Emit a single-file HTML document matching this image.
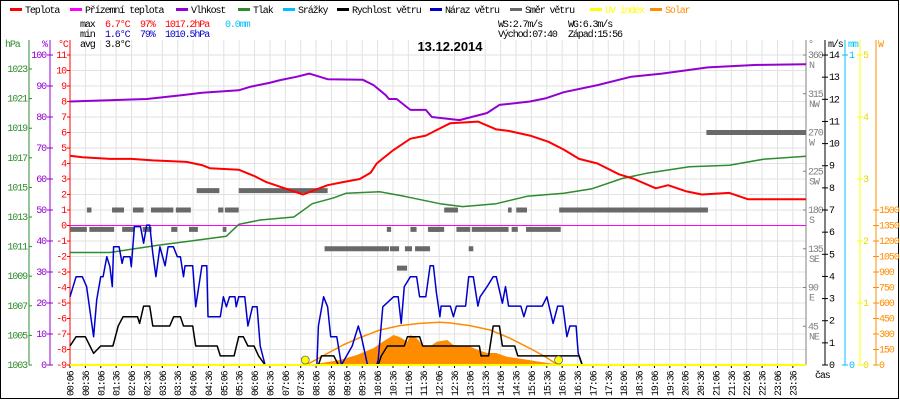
<!DOCTYPE html>
<html><head><meta charset="utf-8">
<style>
html,body{margin:0;padding:0;background:#fff;}
svg{display:block;}
text{font-family:"Liberation Mono","DejaVu Sans Mono",monospace;font-size:10px;letter-spacing:-1.1px;}
</style></head>
<body>
<svg id="chart" width="900" height="400" viewBox="0 0 900 400" xmlns="http://www.w3.org/2000/svg">
<rect x="0.5" y="0.5" width="898" height="398" fill="#fff" stroke="#000"/>
<g id="grid"></g>
<g id="legend"></g>
<g id="stats">
<text x="80" y="27" fill="#000">max</text>
<text x="105" y="27" fill="#f00">6.7°C</text>
<text x="140" y="27" fill="#f00">97%</text>
<text x="165" y="27" fill="#f00">1017.2hPa</text>
<text x="225" y="27" fill="#00bfff">0.0mm</text>
<text x="80" y="37" fill="#000">min</text>
<text x="105" y="37" fill="#00c">1.6°C</text>
<text x="140" y="37" fill="#00c">79%</text>
<text x="165" y="37" fill="#00c">1010.5hPa</text>
<text x="80" y="47" fill="#000">avg</text>
<text x="105" y="47" fill="#000">3.8°C</text>
<text x="498" y="27" fill="#000">WS:2.7m/s</text>
<text x="568" y="27" fill="#000">WG:6.3m/s</text>
<text x="498" y="37" fill="#000">Východ:07:40</text>
<text x="568" y="37" fill="#000">Západ:15:56</text>
</g>
<text x="450" y="51" text-anchor="middle" style="font-family:'Liberation Sans',sans-serif;font-size:13px;font-weight:bold;letter-spacing:0">13.12.2014</text>
<g id="axes"></g>
<g id="series"></g>
</svg>
<script>
// ---- data ----
const tempT = [0,0.4,1.3,2.0,2.7,3.8,4.3,4.56,5.5,6.0,6.4,7.0,7.6,8.0,8.4,8.9,9.45,9.8,10.0,10.5,11.1,11.6,11.9,12.4,13.3,13.9,14.3,15.0,15.6,16.1,16.6,17.2,17.9,18.4,19.1,19.5,20.1,20.6,21.5,21.8,22.1,24];
const tempV = [4.5,4.4,4.3,4.3,4.2,4.1,3.9,3.7,3.6,3.2,2.8,2.4,2.0,2.3,2.6,2.8,3.0,3.4,4.0,4.8,5.6,5.8,6.1,6.6,6.7,6.2,6.1,5.8,5.4,4.9,4.3,4.0,3.3,3.0,2.4,2.6,2.2,2.0,2.1,1.9,1.7,1.7];
const humT = [0,2.5,3.7,4.3,5.5,5.9,6.5,6.85,7.4,7.8,8.4,9.55,9.9,10.3,10.4,10.65,11.1,11.6,11.8,12.7,13.6,14.0,15.0,15.5,16.1,17.2,18.3,19.3,20.8,22.4,24];
const humV = [85,85.8,87.1,87.8,88.6,89.8,91,91.9,93,94,92.2,92,90.3,87,85.8,85.8,82.3,82.3,80,79,81.3,83.9,85,86,88,90.3,93,94,96,96.8,97];
const presT = [0,1.3,2.9,4.0,5.1,5.5,6.2,7.3,7.9,8.6,9.0,10.1,10.9,12.06,12.8,13.9,14.9,16.1,17.0,18.0,18.8,20.2,21.5,22.6,24];
const presV = [1010.6,1010.6,1011.1,1011.4,1011.7,1012.5,1012.8,1013.0,1013.9,1014.3,1014.6,1014.7,1014.4,1013.9,1013.7,1013.9,1014.4,1014.6,1014.9,1015.6,1015.95,1016.4,1016.5,1016.9,1017.1];
const gustT = [0,.2,.4,.54,.77,.87,1.0,1.08,1.2,1.3,1.38,1.42,1.6,1.7,1.75,1.96,2.0,2.1,2.3,2.4,2.5,2.6,2.7,2.8,2.93,3.1,3.2,3.37,3.5,3.6,3.7,3.75,4.0,4.1,4.3,4.46,4.5,4.9,5.0,5.1,5.2,5.38,5.42,5.5,5.7,5.8,5.95,6.1,6.2,6.36,8.05,8.1,8.27,8.4,8.5,8.7,8.85,9.2,9.4,9.5,9.7,10.0,10.05,10.2,10.55,10.7,10.8,10.9,11.1,11.3,11.4,11.6,11.74,11.85,11.95,12.06,12.1,12.4,12.5,12.6,12.9,13.0,13.15,13.3,13.37,13.6,13.8,13.9,14.1,14.2,14.3,14.7,14.8,14.9,15.4,15.55,15.75,15.9,16.07,16.2,16.3,16.5,16.57,16.7];
const gustV = [3.08,3.99,3.99,3.54,1.28,2.94,3.99,3.99,4.89,4.44,3.54,5.34,5.34,4.59,4.89,4.89,4.44,6.25,6.25,5.5,6.32,6.32,5.04,3.99,5.34,4.48,5.34,5.34,4.89,4.89,3.99,4.48,4.48,2.63,4.48,4.48,2.18,2.18,3.08,2.63,3.08,3.08,2.63,3.08,3.08,1.76,2.63,2.63,0.86,0,0,1.76,3.08,2.63,1.28,1.28,0,0.86,1.76,1.28,0,0,0.23,2.63,3.08,3.08,1.88,3.54,3.99,3.99,3.08,3.08,4.48,4.48,3.24,2.18,2.66,2.66,2.18,2.66,2.66,3.99,3.99,2.66,3.08,3.54,3.99,3.99,2.79,3.54,2.66,2.66,2.18,2.66,2.66,3.08,1.88,2.66,2.66,1.28,1.76,1.76,0.53,0];
const windT = [0,.2,.5,.77,1.0,1.4,1.57,1.73,2.2,2.27,2.4,2.6,2.7,3.25,3.38,3.6,3.7,4.0,4.1,4.8,4.9,5.35,5.5,5.65,5.8,6.0,6.15,6.36,8.1,8.2,8.6,8.75,10.05,10.15,10.35,10.9,11.0,11.4,11.5,13.35,13.4,13.65,13.8,14.0,14.1,14.5,14.6,16.6,16.7];
const windV = [0.86,1.28,1.28,0.53,0.86,0.86,1.76,2.18,2.18,1.88,2.66,2.66,1.76,1.76,2.18,2.18,1.76,1.76,0.86,0.86,0.41,0.41,1.28,1.28,0.86,0.86,0.41,0,0,0.41,0.41,0,0,0.41,0.86,0.86,1.28,1.28,0.86,0.86,0.41,0.41,1.76,1.76,0.86,0.86,0.41,0.41,0];
const solarT = [7.7,8.0,8.8,9.35,9.9,10.2,10.55,10.76,11.0,11.1,11.3,11.5,11.74,11.96,12.3,12.5,13.04,13.26,13.6,13.9,14.25,14.8,15.3,15.9,16.0];
const solarV = [0,10,48,97,164,226,290,270,226,290,260,194,180,226,242,194,180,150,116,116,80,55,32,6,0];
const theoT = [7.7,8.4,8.9,9.45,10.1,10.76,11.4,12.06,12.4,13.04,13.7,14.35,15.0,15.55,15.9];
const theoV = [0,113,194,264,339,381,403,413,407,381,339,258,161,71,0];
// direction segments: start hour, end hour, degrees
const dirStart = [4.13,5.5,0.55,1.37,2.05,2.64,3.45,4.83,5.05,12.2,14.28,14.55,15.95,20.75,0,0.63,1.7,2.37,3.3,3.88,4.98,10.33,11.1,11.67,11.74,12.6,13.1,14.4,14.87,8.3,10.43,10.92,11.25,13.0,10.66];
const dirEnd   = [4.87,8.4,0.7,1.76,2.4,3.37,3.94,5.0,5.5,12.65,14.4,14.9,20.8,24,0.55,1.44,2.08,2.66,3.5,4.17,5.1,10.47,11.3,12.06,12.2,13.05,14.3,14.6,16.0,10.4,10.73,11.15,11.74,13.15,10.99];
const dirDeg   = [202.5,202.5,180,180,180,180,180,180,180,180,180,180,180,270,157.5,157.5,157.5,157.5,157.5,157.5,157.5,157.5,157.5,157.5,157.5,157.5,157.5,157.5,157.5,135,135,135,135,135,112.5];
const timeLabels = ["00:06","00:36","01:06","01:36","02:06","02:36","03:06","03:36","04:06","04:36","05:06","05:36","06:06","06:36","07:06","07:36","08:06","08:36","09:06","09:36","10:06","10:36","11:06","11:36","12:06","12:36","13:06","13:36","14:06","14:36","15:06","15:36","16:06","16:36","17:06","17:36","18:06","18:36","19:06","19:36","20:06","20:36","21:06","21:36","22:06","22:36","23:06","23:36"];
const sunEvents = [7.67,15.93];

// ---- scales ----
const X0=70, X1=806, Y0=365;
const xT = t => X0 + t*30.67;
const yC = c => 225.5 - c*15.5;
const yH = h => 365 - h*3.1;
const yP = p => 365 - (p-1003)*14.8;
const yW = v => 365 - v*22.14;
const yD = d => 365 - d*310/360;
const yS = w => 365 - w*0.1033;
const yUV = u => 365 - u*62;

const NS="http://www.w3.org/2000/svg";
function mk(parent, tag, attrs, txt){
  const e=document.createElementNS(NS,tag);
  for(const k in attrs) e.setAttribute(k,attrs[k]);
  if(txt!==undefined) e.textContent=txt;
  parent.appendChild(e); return e;
}
const G=document.getElementById('grid'), A=document.getElementById('axes'), S=document.getElementById('series'), L=document.getElementById('legend');

// grid
for(let i=0;i<48;i++){
  const x=X0+i*15.38;
  const l=mk(G,'line',{x1:x,y1:40,x2:x,y2:Y0,stroke:'#e2e2e2','stroke-width':1});
  
  
  const tk=mk(A,'line',{x1:x,y1:Y0,x2:x,y2:Y0+3,stroke:'#000'});
  
  
  const tx=mk(A,'text',{x:0,y:0,transform:`translate(${x+3.5},396) rotate(-90)`,fill:'#000'},timeLabels[i]);
  
  
}
for(let c=-8;c<=11;c++){
  const l=mk(G,'line',{x1:X0,y1:yC(c),x2:X1,y2:yC(c),stroke:'#e2e2e2'});
  
  
}

// legend
const legNames=["Teplota","Přízemní teplota","Vlhkost","Tlak","Srážky","Rychlost větru","Náraz větru","Směr větru","UV index","Solar"];
const legCols=["#f00","#f0f","#9400d3","#2e8b2e","#00bfff","#000","#0000cd","#696969","#ff0","#ff8c00"];
const legX=[10,70,176,238,283,337,430,510,590,650];
for(let i=0;i<legNames.length;i++){
  const r=mk(L,'rect',{x:legX[i],y:8,width:12,height:3,fill:legCols[i]});
  
  
  const t=mk(L,'text',{x:legX[i]+15,y:13,fill:(i>=8?legCols[i]:'#000')},legNames[i]);
  
  
}

// left axes
function axisLine(x,col,name){const l=mk(A,'line',{x1:x,y1:40,x2:x,y2:Y0,stroke:col,'stroke-width':1});}
axisLine(29,'#2e8b2e','pressure-axis');
axisLine(50,'#9400d3','humidity-axis');
axisLine(70,'#f00','temperature-axis');
const uh=[["hPa",5,'#2e8b2e'],["%",42,'#9400d3'],["°C",58,'#f00']];
uh.forEach(u=>{const t=mk(A,'text',{x:u[1],y:47,fill:u[2]},u[0]);});
for(let p=1003;p<=1023;p+=2){
  const y=yP(p);
  mk(A,'line',{x1:29,y1:y,x2:32,y2:y,stroke:'#2e8b2e'});
  const t=mk(A,'text',{x:27,y:y+3,fill:'#2e8b2e','text-anchor':'end'},p);
  
}
for(let h=0;h<=100;h+=10){
  const y=yH(h);
  mk(A,'line',{x1:47,y1:y,x2:53,y2:y,stroke:'#9400d3'});
  const t=mk(A,'text',{x:46,y:y+3,fill:'#9400d3','text-anchor':'end'},h);
  
}
for(let c=-9;c<=11;c++){
  const y=yC(c);
  mk(A,'line',{x1:67,y1:y,x2:70,y2:y,stroke:'#f00'});
  const t=mk(A,'text',{x:66,y:y+3,fill:'#f00','text-anchor':'end'},c);
  
}

// right axes
axisLine(806,'#808080','direction-axis');
axisLine(825,'#000','wind-axis');
axisLine(845,'#00bfff','rain-axis');
axisLine(860,'#ff0','uv-axis');
axisLine(876,'#ff8c00','solar-axis');
[["°",808,'#808080'],["m/s",828,'#000'],["mm",848,'#00bfff'],["W",878,'#ff8c00']].forEach(u=>{const t=mk(A,'text',{x:u[1],y:47,fill:u[2]},u[0]);});
const dirLab=[[360,"N"],[315,"NW"],[270,"W"],[225,"SW"],[180,"S"],[135,"SE"],[90,"E"],[45,"NE"]];
dirLab.forEach(d=>{const y=yD(d[0]);mk(A,'line',{x1:803,y1:y,x2:806,y2:y,stroke:'#808080'});
  const t=mk(A,'text',{x:808,y:y+3,fill:'#808080'},d[0]);
  const t2=mk(A,'text',{x:809,y:y+13,fill:'#808080'},d[1]);});
for(let v=0;v<=14;v++){const y=yW(v);mk(A,'line',{x1:822,y1:y,x2:828,y2:y,stroke:'#000'});
  const t=mk(A,'text',{x:829,y:y+3,fill:'#000'},v);}
[[0,365],[1,55]].forEach(m=>{mk(A,'line',{x1:842,y1:m[1],x2:848,y2:m[1],stroke:'#00bfff'});const t=mk(A,'text',{x:849,y:m[1]+3,fill:'#00bfff'},m[0]);});
for(let u=0;u<=5;u++){const y=yUV(u);mk(A,'line',{x1:857,y1:y,x2:863,y2:y,stroke:'#ff0'});
  const t=mk(A,'text',{x:863,y:y+3,fill:'#e6d800'},u);}
for(let w=0;w<=1500;w+=150){const y=yS(w);mk(A,'line',{x1:873,y1:y,x2:879,y2:y,stroke:'#ff8c00'});
  const t=mk(A,'text',{x:879,y:y+3,fill:'#ff8c00'},w);}
{const t=mk(A,'text',{x:815,y:378,fill:'#000'},'čas');}

// series
function pts(ts,vs,yf){return ts.map((t,i)=>xT(t).toFixed(1)+','+yf(vs[i]).toFixed(1)).join(' ');}
// solar measured area
{const p=mk(S,'polygon',{points:xT(solarT[0])+','+Y0+' '+pts(solarT,solarV,yS)+' '+xT(solarT[solarT.length-1])+','+Y0,fill:'#ff8c00'});
 }
// direction segments
for(let i=0;i<dirDeg.length;i++){
  const r=mk(S,'rect',{x:xT(dirStart[i]),y:yD(dirDeg[i])-2.5,width:xT(dirEnd[i])-xT(dirStart[i]),height:5,fill:'#696969'});
  
  
}
// zero line (ground temperature)
{const l=mk(S,'line',{x1:X0,y1:yC(0),x2:X1,y2:yC(0),stroke:'#f0f'});}
function line(ts,vs,yf,col,w,name){const p=mk(S,'polyline',{points:pts(ts,vs,yf),fill:'none',stroke:col,'stroke-width':w,'stroke-linejoin':'round'});}
line(theoT,theoV,yS,'#ff8c00',1.5,'solar-theoretical-line');
line(presT,presV,yP,'#2e8b2e',1.5,'pressure-line');
line(humT,humV,yH,'#9400d3',2,'humidity-line');
line(tempT,tempV,yC,'#f00',2,'temperature-line');
line(gustT,gustV,yW,'#0000cd',1.5,'wind-gust-line');
line(windT,windV,yW,'#000',1.5,'wind-speed-line');
// UV line at bottom
{const l=mk(S,'line',{x1:X0,y1:Y0,x2:X1,y2:Y0,stroke:'#ff0','stroke-width':2});}
sunEvents.forEach(t=>{const c=mk(S,'circle',{cx:xT(t),cy:360,r:4,fill:'#ff0',stroke:'#666','stroke-width':0.8});});
</script>
</body></html>
